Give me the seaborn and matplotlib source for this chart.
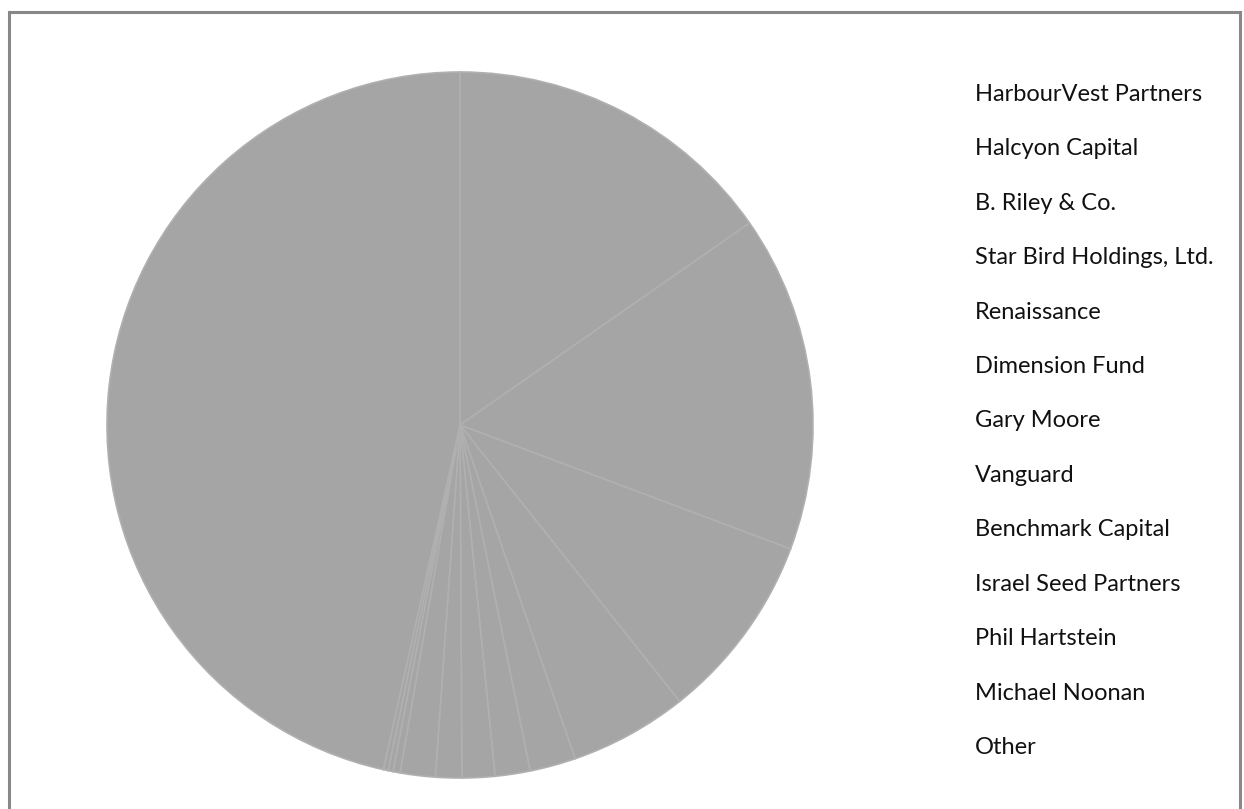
import matplotlib
matplotlib.use("Agg")
import matplotlib.pyplot as plt
from matplotlib.patches import Rectangle
import seaborn as sns

# ---- data (shares) ----
holders = ["HarbourVest Partners", "Halcyon Capital", "B. Riley & Co.",
           "Star Bird Holdings, Ltd.", "Renaissance", "Dimension Fund",
           "Gary Moore", "Vanguard", "Benchmark Capital", "Israel Seed Partners",
           "Phil Hartstein", "Michael Noonan", "Other"]
shares = [15.3, 15.4, 8.6, 5.4, 2.1, 1.6, 1.5, 1.2, 1.6, 0.33, 0.22, 0.22, 46.5]

sns.set_theme(style="white")
plt.rcParams['font.family'] = ['Lato', 'DejaVu Sans']

W, H = 1244, 809
fig = plt.figure(figsize=(W / 100, H / 100), dpi=100)

cx, cy, r = 460, 425, 353
ax = fig.add_axes([(cx - r) / W, (H - cy - r) / H, 2 * r / W, 2 * r / H])
wedges, _ = ax.pie(shares, startangle=90, counterclock=False,
                   colors=["#a5a5a5"] * len(shares),
                   wedgeprops=dict(edgecolor="#b0b0b0", linewidth=1.2))
ax.set_xlim(-1, 1)
ax.set_ylim(-1, 1)
ax.set_aspect("equal")
ax.axis("off")

leg = fig.legend(wedges, holders, loc="upper left",
                 bbox_to_anchor=(975 / W, 1 - 84 / H),
                 frameon=False, handlelength=0, handletextpad=0,
                 borderpad=0, borderaxespad=0, labelspacing=1.415,
                 prop=dict(size=17))
for h in leg.legend_handles:
    h.set_visible(False)
for t in leg.get_texts():
    t.set_color("#111111")

# outer frame
fig.patches.append(Rectangle((9 / W, -0.02), (1240 - 9) / W, 1 - 12 / H + 0.02,
                             transform=fig.transFigure, fill=False,
                             edgecolor="#888888", linewidth=2.2))

fig.savefig("out.png", dpi=100)
